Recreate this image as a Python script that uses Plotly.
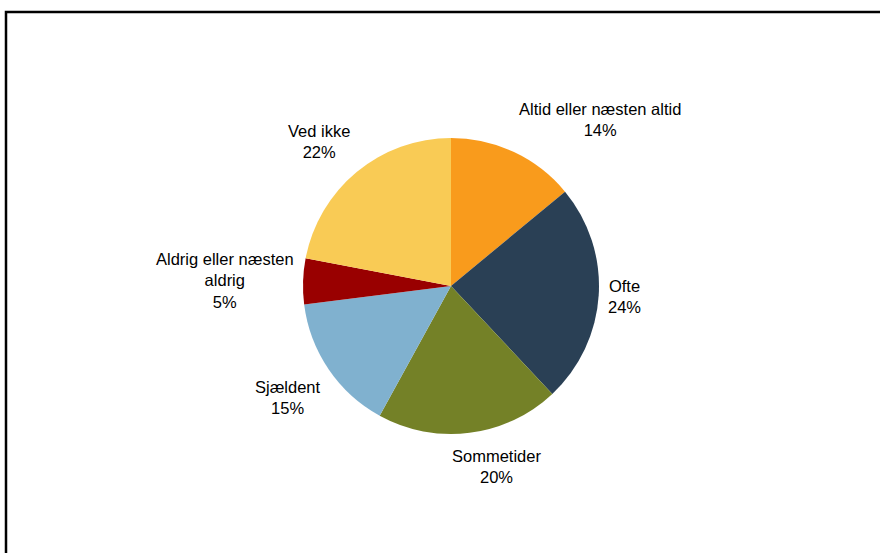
import math
import plotly.graph_objects as go

labels = ["Altid eller næsten altid", "Ofte", "Sommetider", "Sjældent",
          "Aldrig eller næsten<br>aldrig", "Ved ikke"]
values = [14, 24, 20, 15, 5, 22]
colors = ["#F99B1C", "#2A4055", "#748127", "#80B1CF", "#990000", "#F9CB55"]

W, H = 880, 553
CX, CY, R = 451, 286, 148  # pie centre / radius in pixels
GAPX, GAPY = 7, 12
FONT = "Liberation Sans, Arial"

fig = go.Figure(go.Pie(
    labels=labels, values=values, sort=False, direction="clockwise", rotation=0,
    marker=dict(colors=colors, line=dict(width=0)),
    textinfo="none", hoverinfo="label+percent", showlegend=False,
    domain=dict(x=[(CX - R) / W, (CX + R) / W], y=[1 - (CY + R) / H, 1 - (CY - R) / H]),
))

total = sum(values)
cum = 0
for lab, v in zip(labels, values):
    mid = (cum + v / 2) / total * 2 * math.pi
    cum += v
    s, c = math.sin(mid), math.cos(mid)
    px = CX + (R + GAPX) * s
    py = CY - (R + GAPY) * c
    if s > 0.3:
        xa = "left"
    elif s < -0.3:
        xa = "right"
    else:
        xa = "center"
        px += 26 * (1 if s > 0 else -1)
    ya = "bottom" if c > 0.3 else ("top" if c < -0.3 else "middle")
    pct = round(v / total * 100)
    fig.add_annotation(x=px / W, y=1 - py / H, xref="paper", yref="paper",
                       text=f"{lab}<br>{pct}%", showarrow=False, align="center",
                       xanchor=xa, yanchor=ya,
                       font=dict(family=FONT, size=16.5, color="#000"))

# frame: rectangle extending past the right and bottom page edges
fig.add_shape(type="rect", xref="paper", yref="paper",
              x0=6 / W, x1=1.15, y0=-0.15, y1=1 - 12 / H,
              line=dict(color="black", width=2.5), fillcolor="rgba(0,0,0,0)", layer="below")

fig.update_layout(width=W, height=H, margin=dict(l=0, r=0, t=0, b=0),
                  paper_bgcolor="white", plot_bgcolor="white",
                  font=dict(family=FONT, size=16.5, color="#000"))
fig.write_html("out.html")
